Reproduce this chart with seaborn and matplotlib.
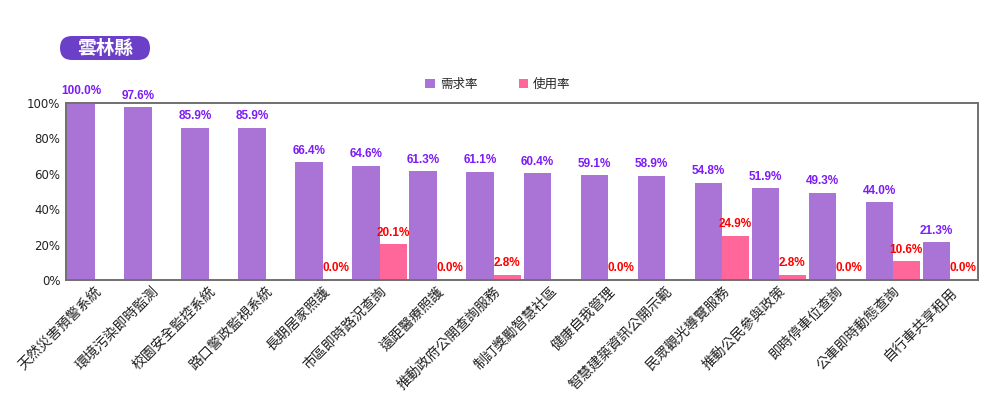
import matplotlib
matplotlib.use("Agg")
import matplotlib.pyplot as plt
import seaborn as sns
import numpy as np
import pandas as pd
from matplotlib.patches import Patch, FancyBboxPatch
from matplotlib.ticker import FuncFormatter

# data
categories = ['天然災害預警系統', '環境污染即時監測', '校園安全監控系統', '路口警政監視系統',
              '長期居家照護', '市區即時路況查詢', '遠距醫療照護', '推動政府公開查詢服務',
              '制訂獎勵智慧社區', '健康自我管理', '智慧建築資訊公開示範', '民眾觀光導覽服務',
              '推動公民參與政策', '即時停車位查詢', '公車即時動態查詢', '自行車共享租用']
demand_rate = [100.0, 97.6, 85.9, 85.9, 66.4, 64.6, 61.3, 61.1, 60.4, 59.1, 58.9, 54.8,
               51.9, 49.3, 44.0, 21.3]
usage_rate = [np.nan, np.nan, np.nan, np.nan, 0.0, 20.1, 0.0, 2.8, np.nan, 0.0, np.nan,
              24.9, 2.8, 0.0, 10.6, 0.0]
series_names = ['需求率', '使用率']
title = '雲林縣'

bar_colors = ['#a974d6', '#ff6699']
label_colors = ['#7d1cf7', '#ff0000']

sns.set_theme(style='white')
plt.rcParams['font.family'] = ['Noto Sans CJK TC', 'DejaVu Sans']

df = pd.DataFrame({'category': categories * 2,
                   'series': [series_names[0]] * len(categories) + [series_names[1]] * len(categories),
                   'value': demand_rate + usage_rate})

W, H = 990, 397
fig = plt.figure(figsize=(W / 100, H / 100), dpi=100)
ax = fig.add_axes([0.0667, 0.2947, 0.9213, 0.4459])

sns.barplot(data=df, x='category', y='value', hue='series', order=categories,
            hue_order=series_names, palette=bar_colors, width=0.95, gap=0,
            saturation=1, legend=False, linewidth=0, ax=ax)

ax.set_xlim(-0.5, len(categories) - 0.5)
ax.set_ylim(0, 100)
ax.set_yticks(range(0, 101, 20))
ax.yaxis.set_major_formatter(FuncFormatter(lambda v, p: f'{v:.0f}%'))
ax.set_xlabel('')
ax.set_ylabel('')
for lbl in ax.get_yticklabels():
    lbl.set_family('DejaVu Sans')
    lbl.set_fontsize(8.5)
    lbl.set_color('#222222')
ax.tick_params(axis='y', length=0, pad=4)
ax.tick_params(axis='x', length=0, pad=3)
ax.set_xticks(range(len(categories)))
ax.set_xticklabels(categories, rotation=45, ha='right', rotation_mode='anchor',
                   fontsize=10, color='#222222')

for s in ax.spines.values():
    s.set_visible(True)
    s.set_color('#707070')
    s.set_linewidth(1.4)

# value labels
for cont, col in zip(ax.containers, label_colors):
    bl = ax.bar_label(cont, fmt='{:.1f}%', padding=4, color=col, fontsize=8.5,
                      fontweight='bold', family='Liberation Sans')
    for t in bl:
        t.set_clip_on(False)

# legend
handles = [Patch(facecolor=c, edgecolor='none', label=n) for c, n in zip(bar_colors, series_names)]
fig.legend(handles=handles, loc='center', bbox_to_anchor=(0.503, 0.788), ncol=2,
           frameon=False, fontsize=9, handlelength=0.75, handleheight=0.75,
           handletextpad=0.4, columnspacing=3.3)

# title pill (small axes measured in pixels)
tax = fig.add_axes([60 / W, 1 - 60 / H, 90 / W, 24 / H])
tax.set_xlim(0, 90)
tax.set_ylim(0, 24)
tax.axis('off')
tax.add_patch(FancyBboxPatch((0, 0), 90, 24, boxstyle='round,pad=0,rounding_size=12',
                             facecolor='#6b3fc7', edgecolor='none'))
tax.text(45, 12, title, ha='center', va='center', fontsize=13.5,
         fontweight='bold', color='white')

fig.savefig('out.png', dpi=100)
